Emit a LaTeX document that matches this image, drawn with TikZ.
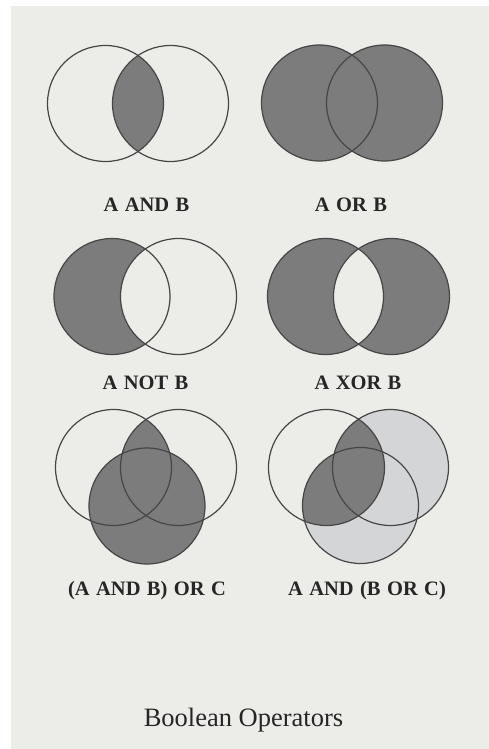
\documentclass[tikz,border=0pt]{standalone}
\usepackage{fontspec}
\setmainfont{Liberation Serif}
\newfontfamily\labfont[WordSpace=1.25]{Liberation Serif}
\definecolor{bg}{RGB}{236,236,232}
\definecolor{dark}{RGB}{124,124,124}
\definecolor{light}{RGB}{212,213,214}
\definecolor{edge}{RGB}{70,70,70}
\begin{document}
\begin{tikzpicture}[x=1pt,y=-1pt,
  ring/.style={draw=edge,line width=1.2pt},
  lab/.style={font=\labfont\bfseries\fontsize{20.5}{20.5}\selectfont,text=black!85,inner sep=0pt},
  ttl/.style={font=\fontsize{26.5}{26.5}\selectfont,text=black!85,inner sep=0pt}]
\def\R{58}
\useasboundingbox (0,0) rectangle (489,749);
\fill[white] (0,0) rectangle (489,749);
\fill[bg] (11,6) rectangle (489,749);

% Row 1 left: A AND B
\begin{scope}
  \clip (105.5,103.5) circle (\R);
  \fill[dark] (170.5,103.5) circle (\R);
\end{scope}
\draw[ring] (105.5,103.5) circle (\R);
\draw[ring] (170.5,103.5) circle (\R);
\node[lab] (l1) at (146.5,205) {A AND B};

% Row 1 right: A OR B
\fill[dark] (319.5,103) circle (\R);
\fill[dark] (384.5,103) circle (\R);
\draw[ring] (319.5,103) circle (\R);
\draw[ring] (384.5,103) circle (\R);
\node[lab] (l2) at (351,205) {A OR B};

% Row 2 left: A NOT B
\begin{scope}
  \clip (112,296.5) circle (\R);
  \fill[dark,even odd rule] (112,296.5) circle (\R) (178.5,296.5) circle (\R);
\end{scope}
\draw[ring] (112,296.5) circle (\R);
\draw[ring] (178.5,296.5) circle (\R);
\node[lab] (l3) at (145.5,383) {A NOT B};

% Row 2 right: A XOR B
\fill[dark,even odd rule] (325.5,296.5) circle (\R) (391.5,296.5) circle (\R);
\draw[ring] (325.5,296.5) circle (\R);
\draw[ring] (391.5,296.5) circle (\R);
\node[lab] (l4) at (358,383) {A XOR B};

% Row 3 left: (A AND B) OR C
\fill[dark] (147,506) circle (\R);
\begin{scope}
  \clip (113.5,467.5) circle (\R);
  \fill[dark] (178.5,467.5) circle (\R);
\end{scope}
\draw[ring] (113.5,467.5) circle (\R);
\draw[ring] (178.5,467.5) circle (\R);
\draw[ring] (147,506) circle (\R);
\node[lab] (l5) at (147,591) {(A AND B) OR C};

% Row 3 right: A AND (B OR C)
\fill[light] (390.5,467.5) circle (\R);
\fill[light] (360.5,505.5) circle (\R);
\begin{scope}
  \clip (326.5,467.5) circle (\R);
  \fill[dark] (390.5,467.5) circle (\R);
  \fill[dark] (360.5,505.5) circle (\R);
\end{scope}
\draw[ring] (326.5,467.5) circle (\R);
\draw[ring] (390.5,467.5) circle (\R);
\draw[ring] (360.5,505.5) circle (\R);
\node[lab] (l6) at (367,591) {A AND (B OR C)};

\node[ttl] (title) at (243.5,720) {Boolean Operators};
\end{tikzpicture}
\end{document}
